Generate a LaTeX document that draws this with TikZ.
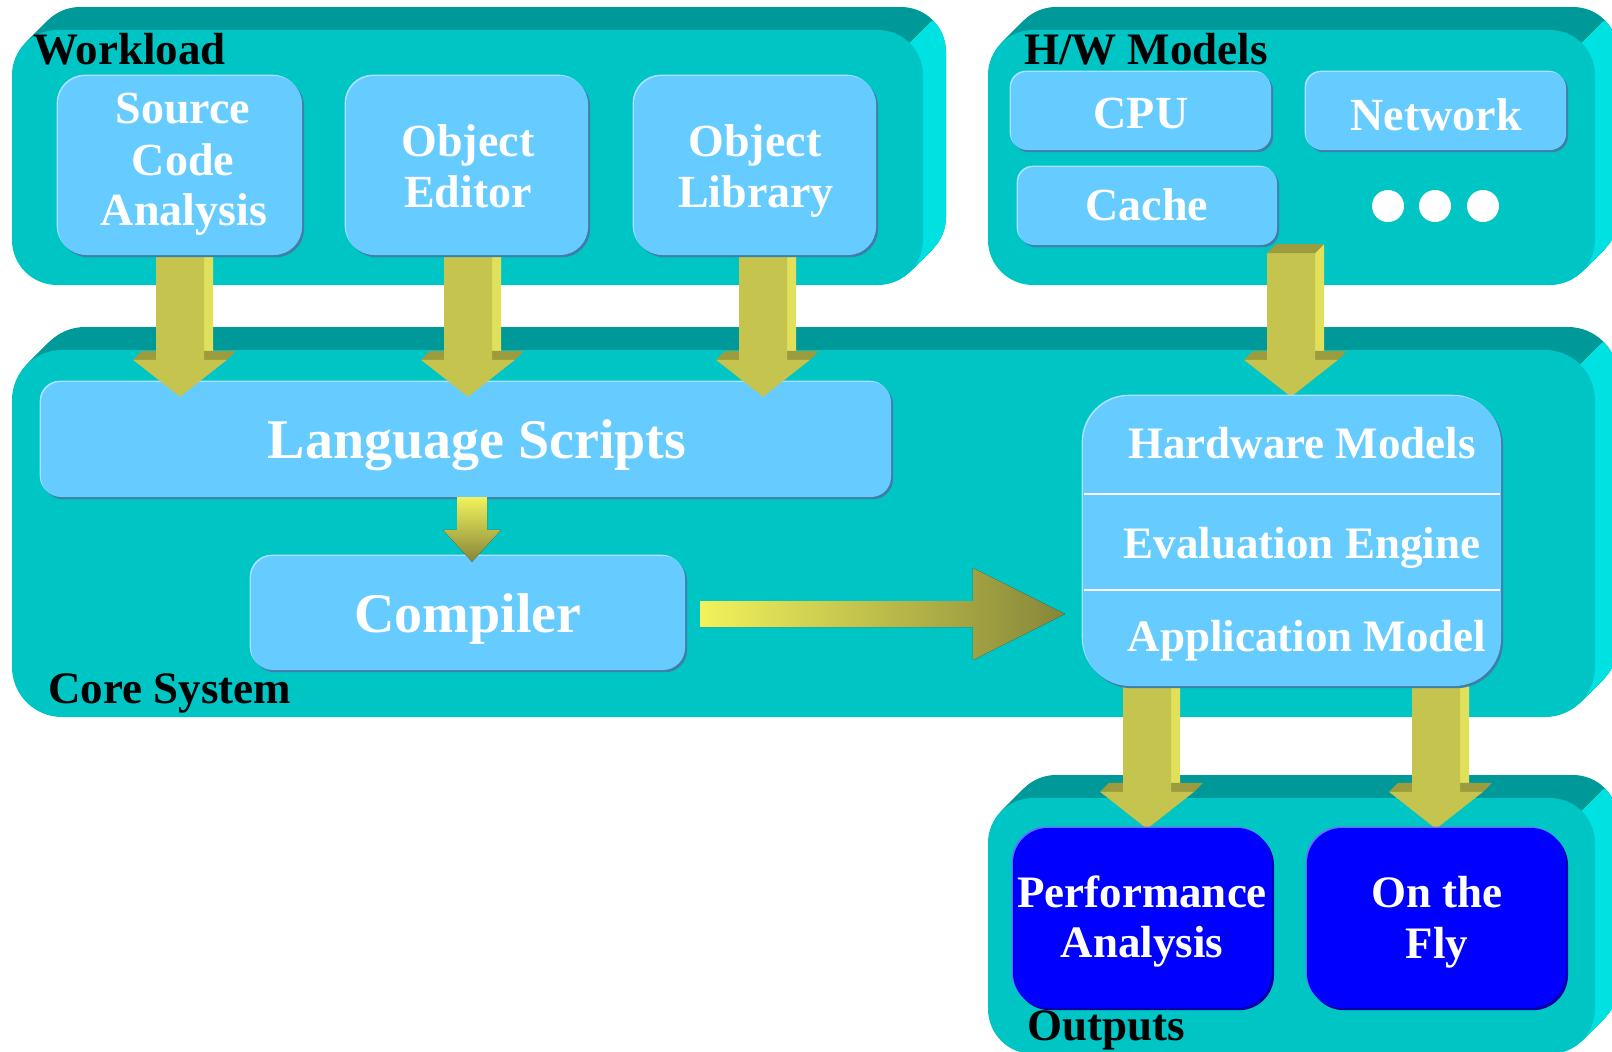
\documentclass[tikz,border=0pt]{standalone}
\usepackage{fontspec}
\setmainfont{Liberation Serif}
\usetikzlibrary{calc}

\definecolor{slabfront}{HTML}{00C5C5}
\definecolor{slabtop}{HTML}{009999}
\definecolor{slabside}{HTML}{00E2E2}
\definecolor{boxfill}{HTML}{66CCFF}
\definecolor{boxdark}{HTML}{3F7EA6}
\definecolor{boxlight}{HTML}{A8E2FF}
\definecolor{outfill}{HTML}{0000FF}
\definecolor{outdark}{HTML}{00009A}
\definecolor{outlight}{HTML}{6A6AFF}
\definecolor{arrowfront}{HTML}{C4C44E}
\definecolor{arrowlite}{HTML}{E0E05A}
\definecolor{arrowdark}{HTML}{9C9C3E}
\definecolor{flowhi}{HTML}{F2F25C}
\definecolor{flowlo}{HTML}{86863A}

\pgfdeclarelayer{slabs}
\pgfdeclarelayer{under}
\pgfdeclarelayer{arrows}
\pgfsetlayers{slabs,under,arrows,main}

% extruded slab: front face x1 y1 x2 y2, corner radius; depth goes up and to the right
\newcommand\drawslab[5]{%
  \foreach \k in {1,...,23}{\fill[slabtop, rounded corners=#5pt] ({#1+\k},{#2-\k}) rectangle ({#3+\k},{#4-\k});}
  \begin{scope}
    \clip ({#3-0.29*#5-2000},{#2+0.29*#5+2000}) -- ({#3-0.29*#5+2000},{#2+0.29*#5-2000}) -- ({#3-0.29*#5+2000},{#2+0.29*#5+2000}) -- cycle;
    \foreach \k in {1,...,23}{\fill[slabside, rounded corners=#5pt] ({#1+\k},{#2-\k}) rectangle ({#3+\k},{#4-\k});}
  \end{scope}
  \fill[slabfront, rounded corners=#5pt] (#1,#2) rectangle (#3,#4);
}

% 3-D block arrow: x, source node, start offset, target node, tip offset
\newcommand\blockarrow[5]{%
  \coordinate (ba-x) at (#1,0);
  \coordinate (ba-s) at ($(ba-x |- #2.south)+(0,#3)$);
  \coordinate (ba-t) at ($(ba-x |- #4.north)+(0,#5)$);
  \coordinate (ba-h) at ($(ba-t)+(0,-37)$);
  \fill[arrowlite] ($(ba-s)+(24,0)$) -- ($(ba-s)+(33,-9)$) -- ($(ba-h)+(33,-9)$) -- ($(ba-h)+(24,0)$) -- cycle;
  \fill[arrowdark] ($(ba-h)+(-47,0)$) -- ($(ba-h)+(-38,-9)$) -- ($(ba-h)+(56,-9)$) -- ($(ba-h)+(47,0)$) -- cycle;
  \fill[arrowfront] ($(ba-s)+(-24,0)$) -- ($(ba-s)+(24,0)$) -- ($(ba-h)+(24,0)$) -- ($(ba-h)+(47,0)$)
     -- (ba-t) -- ($(ba-h)+(-47,0)$) -- ($(ba-h)+(-24,0)$) -- cycle;
}

\begin{document}
\begin{tikzpicture}[x=1pt,y=-1pt,
  lbox/.style={rectangle, inner sep=0pt, rounded corners=#1, fill=boxfill,
    preaction={fill=boxdark, transform canvas={shift={(2pt,-2.2pt)}}},
    preaction={fill=boxlight, transform canvas={shift={(-1.3pt,1.3pt)}}}},
  obox/.style={rectangle, inner sep=0pt, rounded corners=#1, fill=outfill,
    preaction={fill=outdark, transform canvas={shift={(2pt,-2.2pt)}}},
    preaction={fill=outlight, transform canvas={shift={(-1.3pt,1.3pt)}}}},
  panellabel/.style={font=\fontsize{45}{50}\selectfont\bfseries, text=black, anchor=base west, inner sep=0pt},
  boxtext/.style={font=\fontsize{46}{51}\selectfont\bfseries, text=white, anchor=base, inner sep=0pt},
  stacktext/.style={font=\fontsize{45}{50}\selectfont\bfseries, text=white, anchor=base, inner sep=0pt},
  bigtext/.style={font=\fontsize{56}{60}\selectfont\bfseries, text=white, anchor=base, inner sep=0pt}]

\useasboundingbox (0,0) rectangle (1612,1052);

% panels
\begin{pgfonlayer}{slabs}
  \drawslab{12}{30}{923}{285}{45}
  \drawslab{988}{30}{1595}{285}{45}
  \drawslab{12}{350}{1595}{717}{50}
  \drawslab{988}{798}{1595}{1054}{45}
\end{pgfonlayer}

% boxes
\begin{pgfonlayer}{under}
  \node[lbox=20pt, minimum width=850pt, minimum height=115pt] (scripts) at (466,439.5) {};
\end{pgfonlayer}
\node[lbox=28pt, minimum width=244pt, minimum height=179pt] (source) at (180,165.5) {};
\node[lbox=28pt, minimum width=242pt, minimum height=179pt] (editor) at (467,165.5) {};
\node[lbox=28pt, minimum width=242pt, minimum height=179pt] (library) at (755,165.5) {};
\node[lbox=16pt, minimum width=260pt, minimum height=78pt] (cpu) at (1141,111) {};
\node[lbox=16pt, minimum width=260pt, minimum height=78pt] (network) at (1436,111) {};
\node[lbox=16pt, minimum width=259pt, minimum height=78pt] (cache) at (1147.5,206) {};
\node[lbox=22pt, minimum width=434pt, minimum height=114pt] (compiler) at (468,613) {};
\node[lbox=47pt, minimum width=418pt, minimum height=290pt] (hw) at (1292,541) {};
\node[obox=35pt, minimum width=259pt, minimum height=180pt] (perf) at (1142.5,918) {};
\node[obox=35pt, minimum width=259pt, minimum height=180pt] (fly) at (1436.5,918) {};

% dividers of the hardware stack
\draw[white, line width=2.5pt] (1084,494) -- (1500,494);
\draw[white, line width=2.5pt] (1084,590) -- (1500,590);

% ellipsis dots
\fill[white] (1388,206) circle (16);
\fill[white] (1435,206) circle (16);
\fill[white] (1483,206) circle (16);

% block arrows
\begin{pgfonlayer}{arrows}
  \blockarrow{180}{source}{0}{scripts}{15}
  \blockarrow{468}{editor}{0}{scripts}{15}
  \blockarrow{763}{library}{0}{scripts}{15}
  \blockarrow{1291}{cache}{8}{hw}{1}
  \fill[arrowdark] ($(ba-s)+(-24,0)$) -- ($(ba-s)+(-15,-9)$) -- ($(ba-s)+(33,-9)$) -- ($(ba-s)+(24,0)$) -- cycle;
  \blockarrow{1147}{hw}{0}{perf}{1}
  \blockarrow{1436}{hw}{0}{fly}{1}
\end{pgfonlayer}

% scripts to compiler
\coordinate (sa-x) at (472,0);
\coordinate (sa-s) at (sa-x |- scripts.south);
\coordinate (sa-t) at ($(sa-x |- compiler.north)+(0,6)$);
\fill[top color=flowhi, bottom color=flowlo]
  ($(sa-s)+(-15,0)$) -- ($(sa-s)+(15,0)$) -- ($(sa-t)+(15,-32)$) -- ($(sa-t)+(29,-32)$)
  -- (sa-t) -- ($(sa-t)+(-29,-32)$) -- ($(sa-t)+(-15,-32)$) -- cycle;

% compiler to hardware stack
\coordinate (fa-s) at ($(compiler.east)+(15,1)$);
\coordinate (fa-t) at ($(hw.west |- fa-s)+(-18,0)$);
\fill[left color=flowhi, right color=flowlo]
  ($(fa-s)+(0,-13)$) -- ($(fa-t)+(-92,-13)$) -- ($(fa-t)+(-92,-46)$) -- (fa-t)
  -- ($(fa-t)+(-92,46)$) -- ($(fa-t)+(-92,13)$) -- ($(fa-s)+(0,13)$) -- cycle;

% panel labels
\node[panellabel] (l-work) at (33,64) {Workload};
\node[panellabel] (l-hw) at (1024,64) {H/W Models};
\node[panellabel] (l-core) at (48,703) {Core System};
\node[panellabel] (l-out) at (1027,1040) {Outputs};

% box texts
\node[boxtext] (t-src1) at (183,123) {Source};
\node[boxtext] (t-src2) at (183,175) {Code};
\node[boxtext] (t-src3) at (184,225) {Analysis};
\node[boxtext] (t-ed1) at (468,156) {Object};
\node[boxtext] (t-ed2) at (468,207) {Editor};
\node[boxtext] (t-lib1) at (755,156) {Object};
\node[boxtext] (t-lib2) at (756,207) {Library};
\node[boxtext] (t-cpu) at (1141,128) {CPU};
\node[boxtext] (t-net) at (1436,130) {Network};
\node[boxtext] (t-cache) at (1147,220) {Cache};
\node[bigtext] (t-scripts) at (477,458) {Language Scripts};
\node[bigtext] (t-comp) at (468,632) {Compiler};
\node[stacktext] (t-hw1) at (1302,458) {Hardware Models};
\node[stacktext] (t-hw2) at (1302,558) {Evaluation Engine};
\node[stacktext] (t-hw3) at (1307,651) {Application Model};
\node[stacktext] (t-perf1) at (1142,907) {Performance};
\node[stacktext] (t-perf2) at (1142,957) {Analysis};
\node[stacktext] (t-fly1) at (1437,907) {On the};
\node[stacktext] (t-fly2) at (1437,958) {Fly};
\end{tikzpicture}
\end{document}
